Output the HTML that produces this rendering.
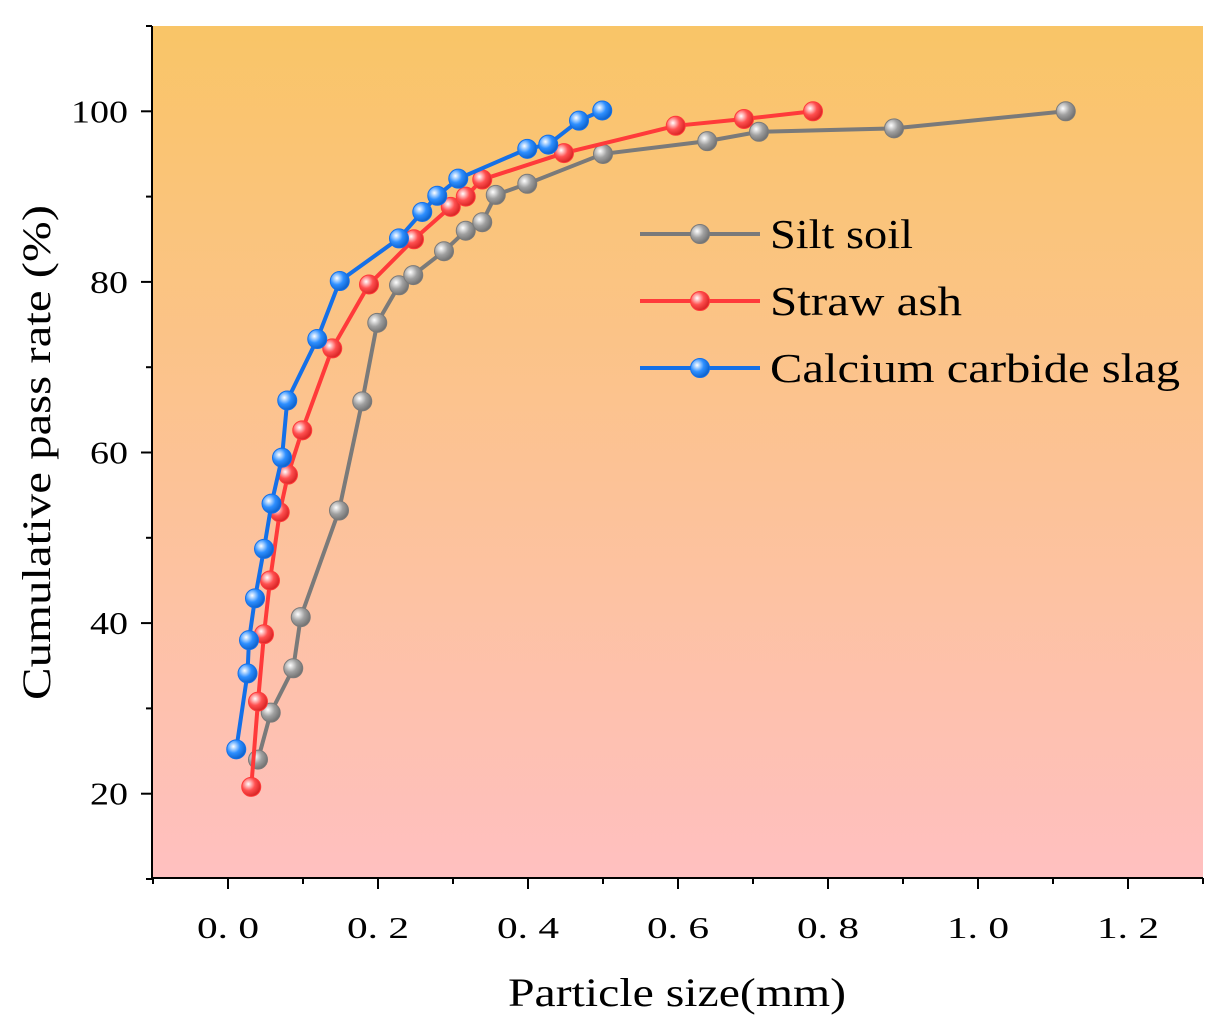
<!DOCTYPE html>
<html><head><meta charset="utf-8"><style>body{margin:0;background:#fff}svg{display:block}</style></head>
<body>
<svg id="chart" width="1230" height="1034" xmlns="http://www.w3.org/2000/svg" font-family="'Liberation Serif', serif">
<defs>
<linearGradient id="bg" x1="0" y1="0" x2="0" y2="1"><stop offset="0" stop-color="#f9c567"/><stop offset="1" stop-color="#ffc0c0"/></linearGradient>
<radialGradient id="mg-gray" cx="0.35" cy="0.35" r="0.7"><stop offset="0" stop-color="#fff"/><stop offset="0.5" stop-color="#a0a0a0"/><stop offset="1" stop-color="#6e6e6e"/></radialGradient>
<radialGradient id="mg-red" cx="0.35" cy="0.35" r="0.7"><stop offset="0" stop-color="#fff"/><stop offset="0.5" stop-color="#ff5050"/><stop offset="1" stop-color="#d42020"/></radialGradient>
<radialGradient id="mg-blue" cx="0.35" cy="0.35" r="0.7"><stop offset="0" stop-color="#fff"/><stop offset="0.5" stop-color="#2e8fff"/><stop offset="1" stop-color="#0a5ec8"/></radialGradient>
</defs>
<rect x="152" y="26" width="1051" height="852" fill="url(#bg)"/>
<g id="axes"></g>
<g id="series"></g>
<text x="508" y="1006" font-size="40" textLength="338" lengthAdjust="spacingAndGlyphs">Particle size(mm)</text>
<text transform="translate(50,700) rotate(-90)" font-size="40" textLength="495" lengthAdjust="spacingAndGlyphs">Cumulative pass rate (%)</text>
<g id="legend"></g>
</svg>
<script>
const siltX=[0.04,0.057,0.087,0.097,0.148,0.179,0.199,0.228,0.247,0.288,0.317,0.339,0.357,0.399,0.5,0.639,0.708,0.888,1.117];
const siltY=[24,29.5,34.7,40.7,53.2,66,75.2,79.6,80.8,83.6,86,87,90.2,91.5,95,96.5,97.6,98,100];
const strawX=[0.031,0.04,0.048,0.056,0.069,0.08,0.099,0.139,0.188,0.248,0.297,0.317,0.339,0.448,0.597,0.688,0.78];
const strawY=[20.8,30.8,38.7,45,53,57.4,62.6,72.2,79.7,85,88.8,90,92,95.1,98.3,99.1,100];
const slagX=[0.011,0.026,0.028,0.036,0.048,0.058,0.072,0.079,0.119,0.149,0.228,0.259,0.279,0.307,0.399,0.427,0.468,0.499];
const slagY=[25.2,34.1,38,42.9,48.7,54,59.4,66.1,73.3,80.1,85.1,88.2,90.1,92.1,95.6,96.1,98.9,100.1];
const xTicks=[0,0.2,0.4,0.6,0.8,1.0,1.2];
const xTickLabels=["0. 0","0. 2","0. 4","0. 6","0. 8","1. 0","1. 2"];
const yTicks=[20,40,60,80,100];
const yTickLabels=["20","40","60","80","100"];
const legendNames=["Silt soil","Straw ash","Calcium carbide slag"];
const legendWidths=[143,192,410];

const NS="http://www.w3.org/2000/svg";
const sx=v=>228+v*750;
const sy=v=>879-(v-10)*8.53;
function mk(tag,attrs,parent){const e=document.createElementNS(NS,tag);for(const k in attrs)e.setAttribute(k,attrs[k]);parent.appendChild(e);return e;}
const ax=document.getElementById('axes');
let l=mk('line',{x1:152,y1:878,x2:1203,y2:878,stroke:'#000','stroke-width':2},ax);


l=mk('line',{x1:152,y1:26,x2:152,y2:879,stroke:'#000','stroke-width':2},ax);


for(let v=-0.1;v<=1.31;v+=0.1){const x=sx(v);const major=Math.abs(Math.round(v*10)%2)===0;
 const t=mk('line',{x1:x,y1:878,x2:x,y2:major?889:884,stroke:'#000','stroke-width':2},ax);
 
 }
xTicks.forEach((v,i)=>{const t=mk('text',{x:sx(v),y:938,'font-size':31,'text-anchor':'middle',textLength:62,lengthAdjust:'spacingAndGlyphs'},ax);t.textContent=xTickLabels[i];
 
 });
for(let v=10;v<=110;v+=10){const y=sy(v);const major=v%20===0;
 const t=mk('line',{x1:152,y1:y,x2:major?141:146,y2:y,stroke:'#000','stroke-width':2},ax);
 
 }
yTicks.forEach((v,i)=>{const t=mk('text',{x:128,y:sy(v)+11,'font-size':32,'text-anchor':'end',textLength:yTickLabels[i].length*19,lengthAdjust:'spacingAndGlyphs'},ax);t.textContent=yTickLabels[i];
 
 });
const ser=document.getElementById('series');
const series=[[siltX,siltY,'#7a7a7a','gray','silt-soil'],[strawX,strawY,'#ff3a3a','red','straw-ash'],[slagX,slagY,'#1470e8','blue','calcium-carbide-slag']];
series.forEach(([xs,ys,c,g,n])=>{
 const p=mk('polyline',{points:xs.map((x,i)=>sx(x)+','+sy(ys[i])).join(' '),fill:'none',stroke:c,'stroke-width':4},ser);
 
 
 xs.forEach((x,i)=>{const m=mk('circle',{cx:sx(x),cy:sy(ys[i]),r:9.5,fill:'url(#mg-'+g+')',stroke:c,'stroke-width':1},ser);
  
  });
});
const lg=document.getElementById('legend');
series.forEach(([xs,ys,c,g,n],i)=>{const y=234+i*67;
 const e=mk('line',{x1:640,y1:y,x2:760,y2:y,stroke:c,'stroke-width':4},lg);
 
 
 const m=mk('circle',{cx:700,cy:y,r:9.5,fill:'url(#mg-'+g+')',stroke:c,'stroke-width':1},lg);
 
 
 const t=mk('text',{x:770,y:y+14,'font-size':41,textLength:legendWidths[i],lengthAdjust:'spacingAndGlyphs'},lg);t.textContent=legendNames[i];
 
 
});
</script>
</body></html>
